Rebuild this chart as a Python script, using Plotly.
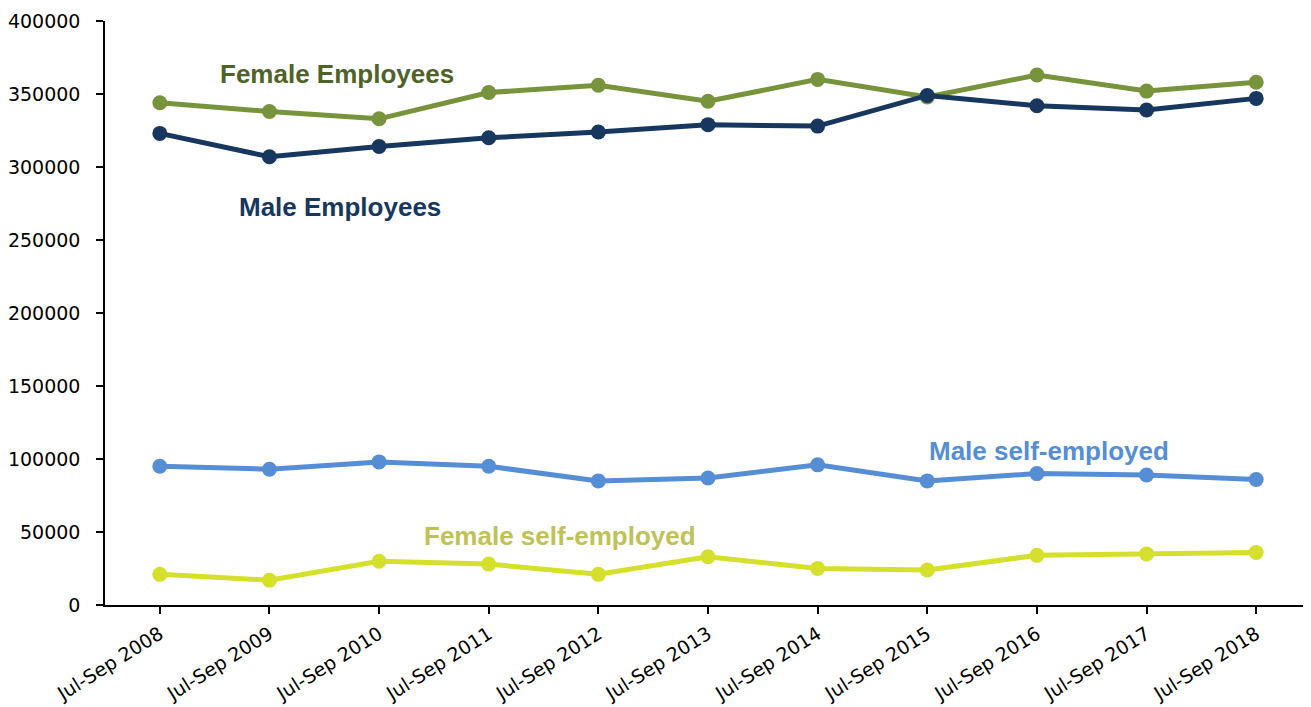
import plotly.graph_objects as go

quarters = ['Jul-Sep 2008', 'Jul-Sep 2009', 'Jul-Sep 2010', 'Jul-Sep 2011', 'Jul-Sep 2012',
            'Jul-Sep 2013', 'Jul-Sep 2014', 'Jul-Sep 2015', 'Jul-Sep 2016', 'Jul-Sep 2017',
            'Jul-Sep 2018']

female_employees = [344000, 338000, 333000, 351000, 356000, 345000, 360000, 348000, 363000, 352000, 358000]
male_employees = [323000, 307000, 314000, 320000, 324000, 329000, 328000, 349000, 342000, 339000, 347000]
male_self = [95000, 93000, 98000, 95000, 85000, 87000, 96000, 85000, 90000, 89000, 86000]
female_self = [21000, 17000, 30000, 28000, 21000, 33000, 25000, 24000, 34000, 35000, 36000]

y_ticks = [0, 50000, 100000, 150000, 200000, 250000, 300000, 350000, 400000]

# (名称, 数据, 线色, 标签色, 标签位置 x, y)
series = [
    ('Female Employees', female_employees, '#77933C', '#4F6228', 1.62, 364000),
    ('Male Employees', male_employees, '#17375E', '#17375E', 1.64, 272500),
    ('Male self-employed', male_self, '#558ED5', '#558ED5', 8.11, 105500),
    ('Female self-employed', female_self, '#D4E02B', '#BFC256', 3.65, 47300),
]

fig = go.Figure()

for name, vals, color, _, _, _ in series:
    fig.add_trace(go.Scatter(
        x=quarters, y=vals, mode='lines+markers', name=name,
        line=dict(color=color, width=5),
        marker=dict(color=color, size=15),
        showlegend=False,
    ))

# 直接标注系列名
for name, _, _, tcolor, lx, ly in series:
    fig.add_annotation(
        x=lx, y=ly, text=f'<b>{name}</b>', showarrow=False,
        font=dict(family='Liberation Sans, Arial', size=26, color=tcolor),
    )

tick_font = dict(family='DejaVu Sans, Verdana', size=19, color='black')

fig.update_xaxes(
    type='category', range=[-0.5, len(quarters) - 0.5],
    showline=True, linecolor='black', linewidth=1.5,
    ticks='outside', ticklen=7, tickcolor='black', tickwidth=1.5,
    tickangle=-32, showgrid=False, zeroline=False,
    tickfont=tick_font, ticklabelstandoff=2,
)
fig.update_yaxes(
    range=[0, 400000], tickvals=y_ticks, ticktext=[str(v) for v in y_ticks],
    showline=True, linecolor='black', linewidth=1.5,
    ticks='outside', ticklen=7, tickcolor='black', tickwidth=1.5,
    showgrid=False, zeroline=False,
    tickfont=tick_font, ticklabelstandoff=12,
)

# 右端刻度线
fig.add_shape(type='line', xref='paper', yref='paper', x0=0.999, x1=0.999, y0=0, y1=-0.012,
              line=dict(color='black', width=1.5))

# 页面 body 有 8px 边距, 宽高相应减去
fig.update_layout(
    width=1303, height=699,
    plot_bgcolor='white', paper_bgcolor='white',
    margin=dict(l=97, r=0, t=13, b=102),
)

fig.write_html('out.html')
